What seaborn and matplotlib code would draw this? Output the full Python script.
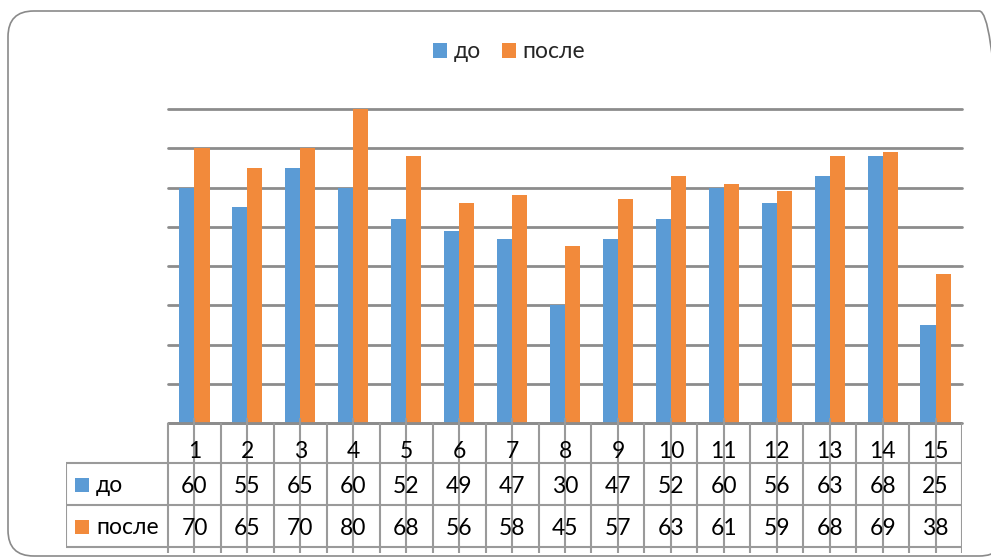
import matplotlib
matplotlib.use("Agg")
import matplotlib.pyplot as plt
from matplotlib.patches import FancyBboxPatch, Patch
import seaborn as sns
import pandas as pd
import numpy as np

# Values per student, before and after
students = [str(i) for i in range(1, 16)]
before = [60, 55, 65, 60, 52, 49, 47, 30, 47, 52, 60, 56, 63, 68, 25]
after = [70, 65, 70, 80, 68, 56, 58, 45, 57, 63, 61, 59, 68, 69, 38]
series_names = ["до", "после"]
series_colors = ["#5B9BD5", "#F28A3B"]
y_ticks = [0, 10, 20, 30, 40, 50, 60, 70, 80]

df = pd.DataFrame({
    "student": students * 2,
    "value": before + after,
    "series": [series_names[0]] * len(students) + [series_names[1]] * len(students),
})

sns.set_theme(style="white")
plt.rcParams["font.family"] = ["Lato", "DejaVu Sans"]

W, H = 991, 559
fig = plt.figure(figsize=(W / 100, H / 100), dpi=100)
fig.patch.set_facecolor("white")

def fx(px):
    return px / W

def fy(py):
    return 1 - py / H

grid_c = "#8c8c8c"
line_c = "#9a9a9a"
FS = 16.5

# rounded outer frame (runs past the right edge)
frame = FancyBboxPatch((fx(8), fy(556)), fx(1005) - fx(8), fy(11) - fy(556),
                       boxstyle="round,pad=0,rounding_size=0.026",
                       transform=fig.transFigure, facecolor="none",
                       edgecolor="#8a8a8a", linewidth=1.2,
                       mutation_aspect=W / H, clip_on=False)
fig.patches.append(frame)

# bar area
plot_l, plot_r, plot_t, plot_b = 168, 962, 109, 423
ax = fig.add_axes([fx(plot_l), fy(plot_b), fx(plot_r) - fx(plot_l), fy(plot_t) - fy(plot_b)])
sns.barplot(data=df, x="student", y="value", hue="series", order=students,
            hue_order=series_names, palette=series_colors, width=0.57,
            saturation=1, ax=ax, legend=False, edgecolor="none", linewidth=0)
ax.set_xlim(-0.5, len(students) - 0.5)
ax.set_ylim(0, 80)
ax.set_yticks(y_ticks)
ax.yaxis.grid(True, color=grid_c, linewidth=2.0)
ax.set_axisbelow(True)
for g in ax.get_ygridlines():
    g.set_clip_on(False)
for s in ax.spines.values():
    s.set_visible(False)
ax.tick_params(left=False, bottom=False, labelleft=False, labelbottom=False)
ax.set_xlabel("")
ax.set_ylabel("")
ax.set_facecolor("none")

# data table under the bars, sharing category units with the bar axes
cat_w = (plot_r - plot_l) / len(students)
tab_l = 66
head_w = (plot_l - tab_l) / cat_w
row_y = [423, 463, 505, 547]   # top of header row, row borders
tab_bottom = 553
axt = fig.add_axes([fx(tab_l), fy(tab_bottom), fx(plot_r) - fx(tab_l), fy(415) - fy(tab_bottom)])
axt.set_xlim(-0.5 - head_w, len(students) - 0.5)
axt.set_ylim(tab_bottom, 415)
axt.axis("off")

x_edges = np.arange(len(students) + 1) - 0.5
lw = 1.5
# horizontal borders
axt.hlines(row_y[0], x_edges[0], x_edges[-1], color=grid_c, linewidth=2.0)
for yy in row_y[1:]:
    axt.hlines(yy, -0.5 - head_w, x_edges[-1], color=line_c, linewidth=lw)
# vertical borders
axt.vlines(-0.5 - head_w, row_y[1], row_y[3], color=line_c, linewidth=lw)
axt.vlines(x_edges, row_y[0], tab_bottom, color=line_c, linewidth=lw)
# category tick marks running through the table
axt.vlines(np.arange(len(students)), 418, tab_bottom, color=line_c, linewidth=lw)

for i, lab in enumerate(students):
    axt.text(i, (row_y[0] + row_y[1]) / 2 + 9, lab, ha="center", va="center", fontsize=FS, color="black")
    axt.text(i, (row_y[1] + row_y[2]) / 2 + 3, str(before[i]), ha="center", va="center", fontsize=FS, color="black")
    axt.text(i, (row_y[2] + row_y[3]) / 2 + 3, str(after[i]), ha="center", va="center", fontsize=FS, color="black")

# row headers with colour keys
sq = 14
for r, (name, col) in enumerate(zip(series_names, series_colors)):
    yc = (row_y[r + 1] + row_y[r + 2]) / 2
    x0 = -0.5 - head_w + 9 / cat_w
    axt.add_patch(plt.Rectangle((x0, yc - sq / 2 + 1), sq / cat_w, sq, facecolor=col, edgecolor="none"))
    axt.text(x0 + 21 / cat_w, yc + 2, name, ha="left", va="center", fontsize=FS, color="black")

# legend on top
handles = [Patch(facecolor=c, edgecolor="none", label=n) for n, c in zip(series_names, series_colors)]
fig.legend(handles=handles, loc="center", bbox_to_anchor=(fx(509), fy(52)), ncol=2,
           frameon=False, fontsize=FS, handlelength=0.62, handleheight=0.62,
           handletextpad=0.3, columnspacing=0.9, borderpad=0)

fig.savefig("out.png", dpi=100, facecolor="white")
